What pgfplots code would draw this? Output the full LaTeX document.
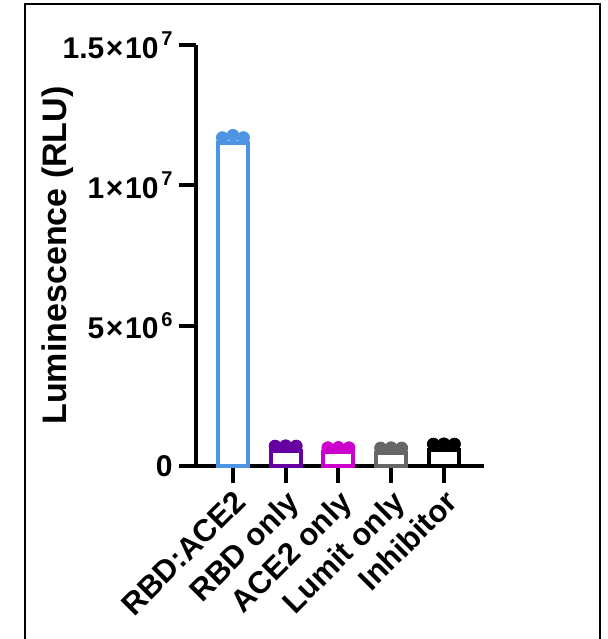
\documentclass[border=0pt]{standalone}
\usepackage{fontspec}
\setmainfont{Liberation Sans}
\usepackage{pgfplots}
\pgfplotsset{compat=1.18}
\definecolor{cblue}{RGB}{77,148,226}
\definecolor{cpurple}{RGB}{102,0,160}
\definecolor{cmag}{RGB}{204,0,204}
\definecolor{cgray}{RGB}{102,102,102}
\definecolor{cblack}{RGB}{0,0,0}
\newcommand{\sci}[2]{#1\kern0.8pt×\kern0.8pt10\kern1.5pt\raisebox{0.42em}{\fontsize{10}{10}\selectfont #2}}
\begin{document}
\begin{tikzpicture}
\useasboundingbox (0,0) rectangle (304pt,-319.5pt);
\draw[line width=1pt] (12.5pt,-319.5pt) -- (12.5pt,-2pt) -- (300pt,-2pt) -- (300pt,-319.5pt);
\begin{axis}[
  at={(98pt,-233pt)}, anchor=south west,
  scale only axis, width=144pt, height=210.5pt,
  xmin=-0.70, xmax=4.76, ymin=0, ymax=1.5e7,
  axis x line=bottom, axis y line=left,
  axis line style={line width=2pt, -},
  tick align=outside, major tick length=8.5pt,
  tick style={line width=2pt, black},
  xtick={0,1,2,3,4},
  xticklabels={RBD:ACE2, RBD only, ACE2 only, Lumit only, Inhibitor},
  xticklabel style={font=\fontsize{15.5}{16}\selectfont\bfseries, rotate=45, anchor=north east, inner sep=0pt, xshift=-2pt, yshift=-1.5pt},
  ytick={0,5e6,1e7,1.5e7},
  yticklabels={0, {\sci{5}{6}}, {\sci{1}{7}}, {\sci{1.5}{7}}},
  scaled y ticks=false,
  yticklabel style={font=\fontsize{15}{16}\selectfont\bfseries, anchor=east, inner sep=0pt, xshift=-3pt},
  ylabel={Luminescence (RLU)},
  ylabel style={font=\fontsize{17}{18}\selectfont\bfseries, at={(axis description cs:-0.48,0.5)}, anchor=center},
  clip=false,
]
\addplot[ybar, bar shift=0pt, bar width=15pt, draw=cblue, line width=2pt, fill=white] coordinates {(0,11.5e6)};
\addplot[ybar, bar shift=0pt, bar width=15pt, draw=cpurple, line width=2pt, fill=white] coordinates {(1,0.53e6)};
\addplot[ybar, bar shift=0pt, bar width=15pt, draw=cmag, line width=2pt, fill=white] coordinates {(2,0.49e6)};
\addplot[ybar, bar shift=0pt, bar width=15pt, draw=cgray, line width=2pt, fill=white] coordinates {(3,0.47e6)};
\addplot[ybar, bar shift=0pt, bar width=15pt, draw=cblack, line width=2pt, fill=white] coordinates {(4,0.58e6)};
\addplot[only marks, mark=*, mark size=3pt, color=cblue] coordinates {(-0.2,11.70e6) (0,11.78e6) (0.2,11.70e6)};
\addplot[only marks, mark=*, mark size=3pt, color=cpurple] coordinates {(0.8,0.71e6) (1,0.72e6) (1.2,0.71e6)};
\addplot[only marks, mark=*, mark size=3pt, color=cmag] coordinates {(1.8,0.65e6) (2,0.66e6) (2.2,0.65e6)};
\addplot[only marks, mark=*, mark size=3pt, color=cgray] coordinates {(2.8,0.64e6) (3,0.65e6) (3.2,0.64e6)};
\addplot[only marks, mark=*, mark size=3pt, color=cblack] coordinates {(3.8,0.78e6) (4,0.79e6) (4.2,0.78e6)};
\end{axis}
\end{tikzpicture}
\end{document}
